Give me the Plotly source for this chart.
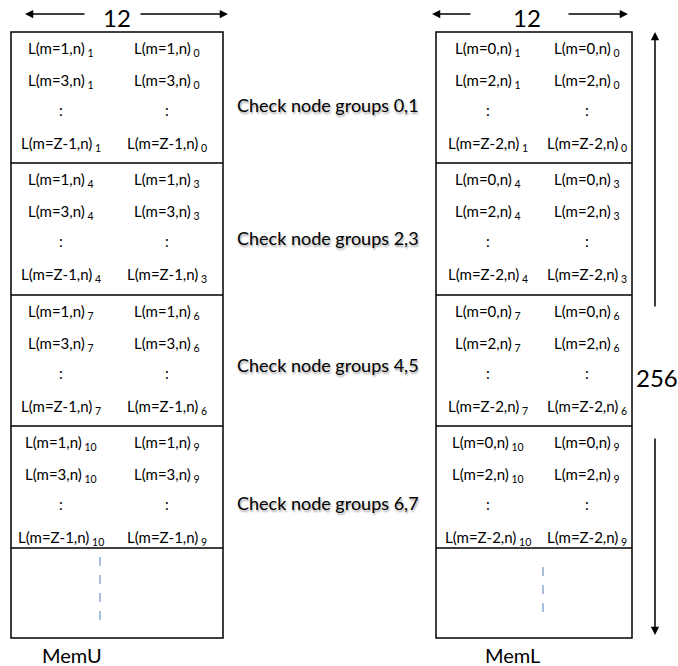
import plotly.graph_objects as go

# ---- content ----
mem_names = ["MemU", "MemL"]
m_values_u = ["1", "3", ":", "Z-1"]
m_values_l = ["0", "2", ":", "Z-2"]
sub_first_col = [1, 4, 7, 10]
sub_second_col = [0, 3, 6, 9]
group_labels = ["Check node groups 0,1", "Check node groups 2,3",
                "Check node groups 4,5", "Check node groups 6,7"]
width_label = "12"
depth_label = "256"

# ---- geometry (pixel space, y down) ----
W, H = 678, 666
boxes_x = [(11, 223), (436, 632)]
col_centers = [(61, 167), (488, 587)]
row_bounds = [32, 163, 295, 426, 548, 638]
row_offsets = [17, 49, 78, 112]
label_offsets = [73, 75, 70, 77]
label_x = 328
dash_spans = [(100, 557, 627), (543, 567, 621)]
mem_x = [72, 512]

FONT = "Lato"
fig = go.Figure()
shapes = []
ann = []

for bi, (x0, x1) in enumerate(boxes_x):
    shapes.append(dict(type="rect", x0=x0, x1=x1, y0=row_bounds[0], y1=row_bounds[-1],
                       line=dict(color="black", width=1.5)))
    for yb in row_bounds[1:-1]:
        shapes.append(dict(type="line", x0=x0, x1=x1, y0=yb, y1=yb,
                           line=dict(color="black", width=1.5)))
    mvals = m_values_u if bi == 0 else m_values_l
    c1, c2 = col_centers[bi]
    for gi in range(4):
        top = row_bounds[gi]
        for ri, mv in enumerate(mvals):
            y = top + row_offsets[ri]
            if mv == ":":
                t1 = t2 = ":"
            else:
                t1 = f"L(m={mv},n)<sub> {sub_first_col[gi]}</sub>"
                t2 = f"L(m={mv},n)<sub> {sub_second_col[gi]}</sub>"
            for cx, t in ((c1, t1), (c2, t2)):
                ann.append(dict(x=cx, y=y, text=t, showarrow=False,
                                font=dict(family=FONT, size=15, color="black"),
                                xanchor="center", yanchor="middle"))
    # dashed continuation line
    dx, dy0, dy1 = dash_spans[bi]
    shapes.append(dict(type="line", x0=dx, x1=dx, y0=dy0, y1=dy1,
                       line=dict(color="#6f93c4", width=1.2, dash="dash")))
    # memory name
    ann.append(dict(x=mem_x[bi], y=655, text=mem_names[bi],
                    showarrow=False, font=dict(family=FONT, size=20, color="black"),
                    xanchor="center", yanchor="middle"))

# group labels
for gi, lab in enumerate(group_labels):
    ann.append(dict(x=label_x, y=row_bounds[gi] + label_offsets[gi], text=lab, showarrow=False,
                    font=dict(family=FONT, size=18, color="black",
                              shadow="1px 2px 2px rgba(0,0,0,0.35)"),
                    xanchor="center", yanchor="middle"))

# width arrows and labels
width_specs = [(117, 25, 86, 139, 228), (527, 432, 472, 567, 628)]
for cx, lt, le, rs, rt in width_specs:
    ann.append(dict(x=cx, y=17, text=width_label, showarrow=False,
                    font=dict(family=FONT, size=24, color="black"),
                    xanchor="center", yanchor="middle"))
    for tip, tail in ((lt, le), (rt, rs)):
        ann.append(dict(x=tip, y=14, ax=tail, ay=14, axref="x", ayref="y",
                        xref="x", yref="y", text="", showarrow=True,
                        arrowhead=2, arrowsize=1.1, arrowwidth=1.5, arrowcolor="black",
                        standoff=0, startstandoff=0))

# depth arrows
ann.append(dict(x=655, y=32, ax=655, ay=308, axref="x", ayref="y", text="", showarrow=True,
                arrowhead=2, arrowsize=1.1, arrowwidth=1.5, arrowcolor="black"))
ann.append(dict(x=655, y=635, ax=655, ay=437, axref="x", ayref="y", text="", showarrow=True,
                arrowhead=2, arrowsize=1.1, arrowwidth=1.5, arrowcolor="black"))
ann.append(dict(x=657, y=377, text=depth_label, showarrow=False,
                font=dict(family=FONT, size=24, color="black"),
                xanchor="center", yanchor="middle"))

fig.update_layout(
    width=W, height=H, margin=dict(l=0, r=0, t=0, b=0),
    paper_bgcolor="white", plot_bgcolor="white",
    xaxis=dict(range=[0, W], visible=False, fixedrange=True),
    yaxis=dict(range=[H, 0], visible=False, fixedrange=True),
    shapes=shapes, annotations=ann, showlegend=False,
)
fig.write_html("out.html", config={"displayModeBar": False},
               post_script="document.body.style.margin='0';")
